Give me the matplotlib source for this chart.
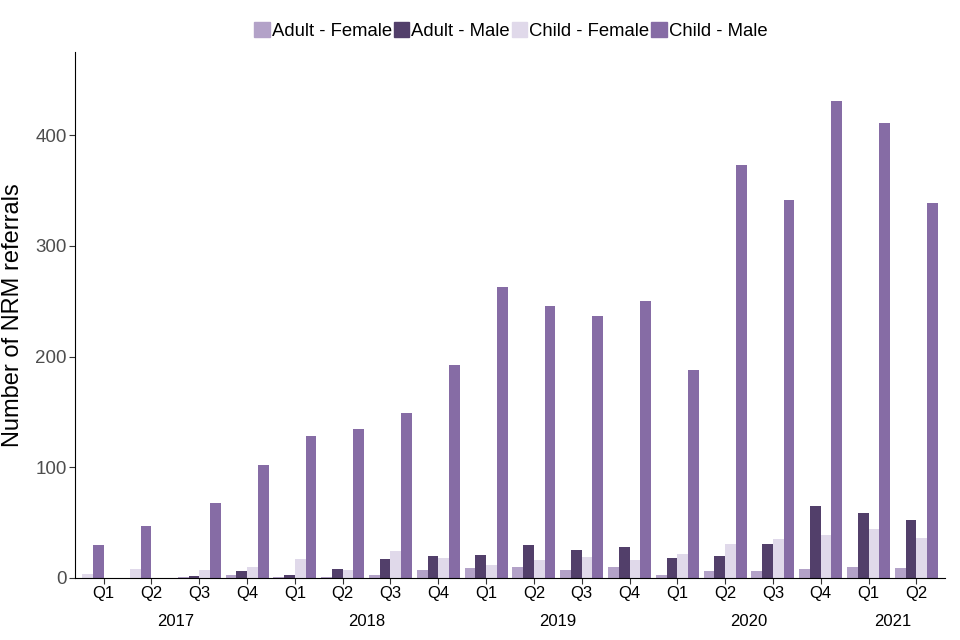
import numpy as np
import matplotlib
matplotlib.use("Agg")
import matplotlib.pyplot as plt

plt.rcParams['font.family'] = ['Liberation Sans', 'DejaVu Sans']

quarters = ['Q1', 'Q2', 'Q3', 'Q4', 'Q1', 'Q2', 'Q3', 'Q4', 'Q1', 'Q2', 'Q3', 'Q4',
            'Q1', 'Q2', 'Q3', 'Q4', 'Q1', 'Q2']
years = ['2017'] * 4 + ['2018'] * 4 + ['2019'] * 4 + ['2020'] * 4 + ['2021'] * 2

series = ['Adult - Female', 'Adult - Male', 'Child - Female', 'Child - Male']
colors = ['#b3a2c8', '#523f6a', '#e0d9ea', '#866ca5']

# None = no record for that quarter (bar not drawn, remaining bars shift left)
adult_female = [None, None, 1, 3, 1, 1, 3, 7, 9, 10, 7, 10, 3, 6, 6, 8, 10, 9]
adult_male = [None, None, 2, 6, 3, 8, 17, 20, 21, 30, 25, 28, 18, 20, 31, 65, 59, 52]
child_female = [4, 8, 7, 10, 17, 7, 24, 18, 12, 16, 19, 16, 22, 31, 35, 39, 44, 36]
child_male = [30, 47, 68, 102, 128, 135, 149, 192, 263, 246, 237, 250, 188, 373, 341,
              431, 411, 339]

data = [adult_female, adult_male, child_female, child_male]

fig = plt.figure(figsize=(9.6, 6.4), dpi=100)
ax = fig.add_axes([75 / 960, 1 - 578 / 640, 870 / 960, 526 / 640])

n = len(series)
group_w = 0.9
bw = group_w / n
x = np.arange(len(quarters))

for i in range(len(quarters)):
    slot = 0
    for s in range(n):
        v = data[s][i]
        if v is None:
            continue
        left = x[i] - group_w / 2 + slot * bw
        ax.bar(left, v, width=bw, align='edge', color=colors[s])
        slot += 1

ax.set_xlim(-0.6, len(quarters) - 0.4)
ax.set_ylim(0, 475)
ax.set_yticks([0, 100, 200, 300, 400])
ax.tick_params(axis='y', labelsize=13.5, labelcolor='#4d4d4d', color='#333333', length=4, pad=2)
ax.set_xticks(x)
ax.set_xticklabels(quarters)
ax.tick_params(axis='x', labelsize=12, labelcolor='black', color='#333333', length=4, pad=2)
ax.spines['top'].set_visible(False)
ax.spines['right'].set_visible(False)
ax.set_ylabel('Number of NRM referrals', fontsize=17, labelpad=8)

# year labels beneath the quarter labels
uniq = []
for y in years:
    if y not in uniq:
        uniq.append(y)
for y in uniq:
    idx = [k for k, yy in enumerate(years) if yy == y]
    ax.text(np.mean(idx), -0.082, y, transform=ax.get_xaxis_transform(),
            ha='center', va='center', fontsize=12)

handles = [plt.Rectangle((0, 0), 1, 1, color=c) for c in colors]
fig.legend(handles, series, loc='center', bbox_to_anchor=(0.532, 1 - 31 / 640), ncol=4,
           frameon=False, fontsize=13.3, handlelength=0.85, handleheight=0.85,
           handletextpad=0.1, columnspacing=0.1)

fig.savefig('out.png', dpi=100)
